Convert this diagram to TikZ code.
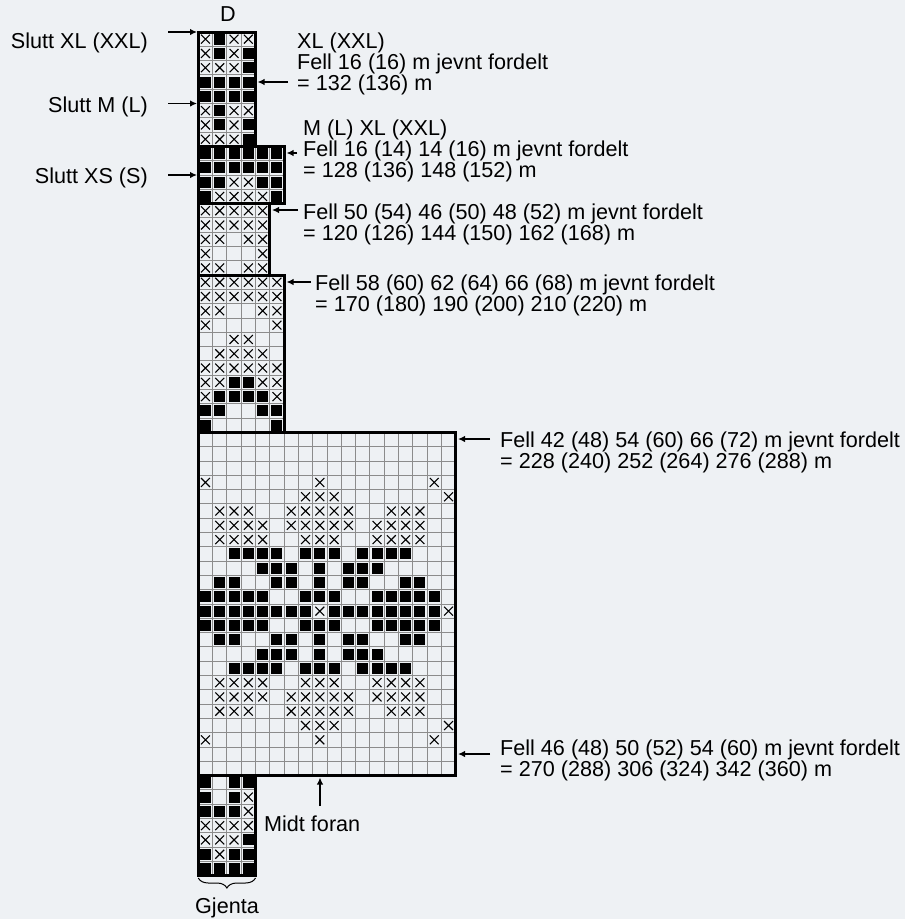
\documentclass[tikz,border=0pt]{standalone}
\usepackage{fontspec}
\setmainfont{Liberation Sans}
\usetikzlibrary{arrows.meta,decorations.pathreplacing}
\definecolor{bgcol}{RGB}{238,241,244}
\definecolor{gridcol}{RGB}{140,140,140}
\tikzset{
  gridline/.style={draw=gridcol, line width=0.9pt},
  xmark/.style={draw=black, line width=1.1pt},
  outline/.style={draw=black, line width=3pt, line join=miter},
  arr/.style={draw=black, line width=1.4pt, -{Latex[length=7pt,width=6.5pt]}},
  lbl/.style={inner sep=0pt, font=\fontsize{21.6pt}{21pt}\selectfont},
}
\newcommand\knitrow[2]{%
  \foreach \kv [count=\kc from 0] in {#2} {%
    \ifnum\kv=1 \draw[xmark] (\kc+0.5,#1+0.5) +(-0.31,-0.31) -- +(0.31,0.31) +(-0.31,0.31) -- +(0.31,-0.31);\fi
    \ifnum\kv=2 \fill[black] (\kc+0.5,#1+0.5) +(-0.385,-0.385) rectangle +(0.385,0.385);\fi
  }%
}
\newcommand\knitgrid[3]{%
  \foreach \kr in {#1,...,#2} {\draw[gridline] (0,\kr) -- (#3,\kr);}%
  \foreach \kk in {0,...,#3} {\draw[gridline] (\kk,#1) -- (\kk,#2);}%
}
\begin{document}
\begin{tikzpicture}[x=1pt,y=-1pt]
\fill[bgcol] (0,0) rectangle (905,919);
\useasboundingbox (0,0) rectangle (905,919);

\begin{scope}[shift={(198.3pt,-32pt)}, x=14.3pt, y=-14.3pt]
  % grid lines
  \knitgrid{0}{8}{4}
  \knitgrid{8}{12}{6}
  \knitgrid{12}{17}{5}
  \knitgrid{17}{28}{6}
  \knitgrid{28}{52}{18}
  \knitgrid{52}{59}{4}
  % block A
  \knitrow{0}{1,2,1,1}
  \knitrow{1}{1,2,1,2}
  \knitrow{2}{1,1,1,2}
  \knitrow{3}{2,2,2,2}
  \knitrow{4}{2,2,2,2}
  \knitrow{5}{1,2,1,1}
  \knitrow{6}{1,2,1,2}
  \knitrow{7}{1,1,1,2}
  % block B
  \knitrow{8}{2,2,2,2,2,2}
  \knitrow{9}{2,2,2,2,2,2}
  \knitrow{10}{2,2,1,1,2,2}
  \knitrow{11}{2,1,1,1,1,2}
  % block C
  \knitrow{12}{1,1,1,1,1}
  \knitrow{13}{1,1,1,1,1}
  \knitrow{14}{1,1,0,1,1}
  \knitrow{15}{1,0,0,0,1}
  \knitrow{16}{1,1,0,1,1}
  % block D
  \knitrow{17}{1,1,1,1,1,1}
  \knitrow{18}{1,1,1,1,1,1}
  \knitrow{19}{1,1,0,0,1,1}
  \knitrow{20}{1,0,0,0,0,1}
  \knitrow{21}{0,0,1,1,0,0}
  \knitrow{22}{0,1,1,1,1,0}
  \knitrow{23}{1,1,1,1,1,1}
  \knitrow{24}{1,1,2,2,1,1}
  \knitrow{25}{1,2,2,2,2,1}
  \knitrow{26}{2,2,0,0,2,2}
  \knitrow{27}{2,0,0,0,0,2}
  % block E (rows 28-51)
  \knitrow{31}{1,0,0,0,0,0,0,0,1,0,0,0,0,0,0,0,1,0}
  \knitrow{32}{0,0,0,0,0,0,0,1,1,1,0,0,0,0,0,0,0,1}
  \knitrow{33}{0,1,1,1,0,0,1,1,1,1,1,0,0,1,1,1,0,0}
  \knitrow{34}{0,1,1,1,1,0,1,1,1,1,1,0,1,1,1,1,0,0}
  \knitrow{35}{0,1,1,1,1,0,0,1,1,1,0,0,1,1,1,1,0,0}
  \knitrow{36}{0,0,2,2,2,2,0,2,2,2,0,2,2,2,2,0,0,0}
  \knitrow{37}{0,0,0,0,2,2,2,0,2,0,2,2,2,0,0,0,0,0}
  \knitrow{38}{0,2,2,0,0,2,2,0,2,0,2,2,0,0,2,2,0,0}
  \knitrow{39}{2,2,2,2,2,0,0,2,2,2,0,0,2,2,2,2,2,0}
  \knitrow{40}{2,2,2,2,2,2,2,2,1,2,2,2,2,2,2,2,2,1}
  \knitrow{41}{2,2,2,2,2,0,0,2,2,2,0,0,2,2,2,2,2,0}
  \knitrow{42}{0,2,2,0,0,2,2,0,2,0,2,2,0,0,2,2,0,0}
  \knitrow{43}{0,0,0,0,2,2,2,0,2,0,2,2,2,0,0,0,0,0}
  \knitrow{44}{0,0,2,2,2,2,0,2,2,2,0,2,2,2,2,0,0,0}
  \knitrow{45}{0,1,1,1,1,0,0,1,1,1,0,0,1,1,1,1,0,0}
  \knitrow{46}{0,1,1,1,1,0,1,1,1,1,1,0,1,1,1,1,0,0}
  \knitrow{47}{0,1,1,1,0,0,1,1,1,1,1,0,0,1,1,1,0,0}
  \knitrow{48}{0,0,0,0,0,0,0,1,1,1,0,0,0,0,0,0,0,1}
  \knitrow{49}{1,0,0,0,0,0,0,0,1,0,0,0,0,0,0,0,1,0}
  % block F
  \knitrow{52}{2,0,2,2}
  \knitrow{53}{2,0,2,1}
  \knitrow{54}{2,2,2,1}
  \knitrow{55}{1,1,1,1}
  \knitrow{56}{1,1,1,2}
  \knitrow{57}{2,1,2,2}
  \knitrow{58}{2,2,2,2}
  % thick outline and block borders
  \draw[outline] (0,0) -- (4,0) -- (4,8) -- (6,8) -- (6,12) -- (5,12) -- (5,17)
     -- (6,17) -- (6,28) -- (18,28) -- (18,52) -- (4,52) -- (4,59) -- (0,59) -- cycle;
  \draw[outline] (0,8) -- (4,8);
  \draw[outline] (0,12) -- (5,12);
  \draw[outline] (0,17) -- (5,17);
  \draw[outline] (0,28) -- (6,28);
  \draw[outline] (0,52) -- (4,52);
\end{scope}

% labels
\node[lbl, anchor=base] (lD) at (228,21.5) {D};
\node[lbl, anchor=base east] (sXL) at (148,48) {Slutt XL (XXL)};
\node[lbl, anchor=base east] (sM) at (148,112) {Slutt M (L)};
\node[lbl, anchor=base east] (sXS) at (148,183) {Slutt XS (S)};

\node[lbl, anchor=base west] (t1a) at (297,48) {XL (XXL)};
\node[lbl, anchor=base west] (t1b) at (297,69) {Fell 16 (16) m jevnt fordelt};
\node[lbl, anchor=base west] (t1c) at (297,90) {= 132 (136) m};
\node[lbl, anchor=base west] (t2a) at (303,135) {M (L) XL (XXL)};
\node[lbl, anchor=base west] (t2b) at (303,156) {Fell 16 (14) 14 (16) m jevnt fordelt};
\node[lbl, anchor=base west] (t2c) at (303,177) {= 128 (136) 148 (152) m};
\node[lbl, anchor=base west] (t3a) at (303,219) {Fell 50 (54) 46 (50) 48 (52) m jevnt fordelt};
\node[lbl, anchor=base west] (t3b) at (303,240) {= 120 (126) 144 (150) 162 (168) m};
\node[lbl, anchor=base west] (t4a) at (315,290) {Fell 58 (60) 62 (64) 66 (68) m jevnt fordelt};
\node[lbl, anchor=base west] (t4b) at (315,311) {= 170 (180) 190 (200) 210 (220) m};
\node[lbl, anchor=base west] (t5a) at (500,447) {Fell 42 (48) 54 (60) 66 (72) m jevnt fordelt};
\node[lbl, anchor=base west] (t5b) at (500,468) {= 228 (240) 252 (264) 276 (288) m};
\node[lbl, anchor=base west] (t6a) at (500,755) {Fell 46 (48) 50 (52) 54 (60) m jevnt fordelt};
\node[lbl, anchor=base west] (t6b) at (500,776) {= 270 (288) 306 (324) 342 (360) m};
\node[lbl, anchor=base west] (mf) at (264,831) {Midt foran};
\node[lbl, anchor=base] (gj) at (227,913) {Gjenta};

% arrows
\coordinate (a1s) at (168,32);    \coordinate (a1e) at (197,32);
\coordinate (a2s) at (168,103.5); \coordinate (a2e) at (197,103.5);
\coordinate (a3s) at (168,175);   \coordinate (a3e) at (197,175);
\coordinate (a4s) at (288,82);    \coordinate (a4e) at (257.5,82);
\coordinate (a5s) at (297,153);   \coordinate (a5e) at (286.5,153);
\coordinate (a6s) at (298,210);   \coordinate (a6e) at (272,210);
\coordinate (a7s) at (311,282);   \coordinate (a7e) at (286.5,282);
\coordinate (a8s) at (490,439);   \coordinate (a8e) at (458,439);
\coordinate (a9s) at (490,754);   \coordinate (a9e) at (458,754);
\coordinate (a10s) at (320,806);  \coordinate (a10e) at (320,777.5);
\foreach \s/\e in {a1s/a1e,a2s/a2e,a3s/a3e,a4s/a4e,a5s/a5e,a6s/a6e,a7s/a7e,a8s/a8e,a9s/a9e,a10s/a10e}
  \draw[arr] (\s) -- (\e);

% brace
\coordinate (bl) at (198.3,878);
\coordinate (br) at (255.5,878);
\draw[line width=1pt, decorate, decoration={brace, mirror, amplitude=10pt}] (bl) -- (br);
\end{tikzpicture}
\end{document}
